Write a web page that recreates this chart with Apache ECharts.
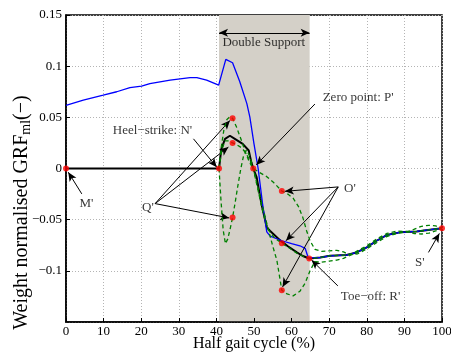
<!DOCTYPE html>
<html><head><meta charset="utf-8">
<script src="https://cdn.jsdelivr.net/npm/echarts@6/dist/echarts.min.js"></script>
<style>html,body{margin:0;padding:0;background:#fff}#c{width:451px;height:354px}</style>
</head><body><div id="c"></div>
<script>
// ---- data (x = % half gait cycle, y = weight normalised GRF_ml) ----
const blueCurve = [[0,0.0618],[4.6,0.0667],[9.9,0.0716],[13.5,0.075],[17,0.079],[20.1,0.0804],[22.3,0.083],[27.7,0.0863],[33,0.0889],[34.8,0.0889],[37.4,0.0863],[40.6,0.0814],[42.5,0.1066],[44.3,0.1033],[46.2,0.085],[48.1,0.0634],[48.9,0.0503],[50,0.024],[51.1,0],[52.3,-0.035],[53.4,-0.062],[54.3,-0.066],[57.4,-0.0706],[60,-0.0735],[62.2,-0.0755],[63.6,-0.078],[64.4,-0.087],[67.6,-0.087],[70.2,-0.0853],[74.6,-0.0846],[77.3,-0.082],[80,-0.077],[82.6,-0.0706],[85.3,-0.065],[88.8,-0.0624],[93.3,-0.0615],[96.8,-0.0598],[100,-0.0585]];
const blackCurve = [[0,0],[40.7,0],[41.3,0.019],[42.3,0.029],[43.6,0.032],[44.9,0.029],[47,0.024],[48.6,0.0176],[49.3,0.006],[49.8,0],[50.7,-0.0085],[52,-0.035],[53.4,-0.0575],[54.3,-0.061],[56.9,-0.07],[59,-0.076],[61.4,-0.082],[63,-0.0855],[64.7,-0.088],[67.6,-0.087],[70.2,-0.0853],[74.6,-0.0846],[77.3,-0.082],[80,-0.077],[82.6,-0.0706],[85.3,-0.065],[88.8,-0.0624],[93.3,-0.0615],[96.8,-0.0598],[100,-0.0585]];
const greenUpper = [[40.7,0],[41.3,0.021],[42,0.038],[42.8,0.048],[43.6,0.0505],[44.3,0.049],[45.3,0.041],[46.5,0.029],[47.7,0.016],[48.8,0.006],[49.8,0],[51.5,-0.004],[53.4,-0.008],[55.3,-0.014],[57.4,-0.022],[59,-0.025],[60.4,-0.029],[61.8,-0.037],[63,-0.048],[64,-0.061],[64.9,-0.0706],[66.2,-0.079],[68,-0.081],[70,-0.0805],[72,-0.08],[73.8,-0.0815],[75.5,-0.0845],[77.5,-0.0835],[80,-0.0785],[82.6,-0.0725],[85.3,-0.0665],[88,-0.0635],[90.7,-0.0618],[92.5,-0.0595],[94.5,-0.0565],[96.5,-0.0555],[98.3,-0.056],[100,-0.0585]];
const greenMiddle = [[40.7,0],[41.4,0.018],[42.3,0.027],[43.3,0.027],[44.3,0.025],[45.5,0.023],[46.8,0.02],[48,0.014],[49,0.007],[49.8,0],[51,-0.02],[52.5,-0.045],[53.8,-0.06],[55.5,-0.068],[57.4,-0.073],[59.5,-0.078],[61.5,-0.083],[63.2,-0.086],[64.7,-0.088],[67.6,-0.087],[70.2,-0.0853],[74.6,-0.0846],[77.3,-0.082],[80,-0.077],[82.6,-0.0706],[85.3,-0.065],[88.8,-0.0624],[93.3,-0.0615],[96.8,-0.0598],[100,-0.0585]];
const greenLower = [[40.7,0],[41.2,-0.03],[41.8,-0.06],[42.4,-0.0735],[43,-0.069],[43.6,-0.06],[44.3,-0.048],[45,-0.033],[45.7,-0.017],[46.5,0],[47.2,0.012],[48,0.018],[48.9,0.012],[49.8,0],[50.8,-0.015],[52.2,-0.036],[53.7,-0.058],[55,-0.076],[56.1,-0.09],[57.4,-0.119],[58.8,-0.1225],[60.4,-0.1245],[62.2,-0.12],[63.6,-0.112],[64.9,-0.1],[66.2,-0.091],[68,-0.0915],[70,-0.0905],[72,-0.0895],[73.8,-0.0878],[75.5,-0.085],[77.5,-0.0805],[80,-0.0755],[82.6,-0.069],[85.3,-0.0635],[88,-0.0612],[90.7,-0.0615],[92.5,-0.0635],[94.5,-0.064],[96.5,-0.0632],[98.3,-0.061],[100,-0.0585]];
const keyX = [0, 40.7, 44.3, 44.3, 44.3, 49.8, 57.4, 57.4, 57.4, 64.7, 100];
const keyY = [0, 0, 0.049, 0.025, -0.048, 0, -0.022, -0.073, -0.119, -0.088, -0.0585];
const doubleSupport = [40.7, 64.8];
const labelTexts = ["M'", "Heel\u2212strike: N'", "Zero point: P'", "Q'", "O'", "Toe\u2212off: R'", "S'", "Double Support"];
const labelX = [5.45, 23.0, 77.7, 21.8, 75.5, 81.0, 94.1, 52.6];
const labelY = [-0.0338, 0.0373, 0.0691, -0.0382, -0.0196, -0.1255, -0.0922, 0.1229];
const arrows = [ // [x tail, y tail, x head, y head]
  [4.2,-0.0248,0.6,-0.0036],
  [33.9,0.029,40.1,0.0013],
  [66.2,0.063,50.6,0.0035],
  [23.7,-0.0343,43.6,0.047],
  [23.7,-0.0343,43.2,0.0209],
  [23.7,-0.0343,43.4,-0.0483],
  [72.4,-0.018,58.2,-0.0223],
  [72.4,-0.018,58.5,-0.0706],
  [72.4,-0.018,57.6,-0.1157],
  [72.3,-0.1147,65.3,-0.0895],
  [96.4,-0.082,99.3,-0.0634]
];
const supportArrowY = 0.1326;

const FONT = 'Liberation Serif';
const chart = echarts.init(document.getElementById('c'), null, {renderer:'canvas'});
const fmtY = v => { if (Math.abs(v) < 1e-9) return '0'; return (v < 0 ? '\u2212' : '') + String(+Math.abs(v).toFixed(2)); };
const green = '#008000';
const dashed = d => ({type:'line', data:d, showSymbol:false, z:5, silent:true,
  lineStyle:{color:green, width:1.3, type:[4,3]}});

const arrowData = arrows.map(a => [{coord:[a[0],a[1]]},{coord:[a[2],a[3]]}]);
arrowData.push([{coord:[doubleSupport[0],supportArrowY], symbol:'arrow'},{coord:[doubleSupport[1],supportArrowY], symbol:'arrow'}]);

chart.setOption({
  animation:false,
  backgroundColor:'#fff',
  grid:{left:66,right:9,top:15,bottom:32,show:true,borderColor:'#000',borderWidth:1.5,containLabel:false,outerBoundsMode:'none'},
  xAxis:{type:'value',min:0,max:100,interval:10,z:1,
    axisLine:{show:true,onZero:false,lineStyle:{color:'#000',width:1.5}},
    axisTick:{show:true,inside:true,length:4,lineStyle:{color:'#000'}},
    axisLabel:{color:'#000',fontFamily:FONT,fontSize:13,margin:3},
    splitLine:{show:true,lineStyle:{color:'#b4b4b4',type:[1,2],width:1}},
    name:'Half gait cycle (%)',nameLocation:'middle',nameGap:14,nameMoveOverlap:false,
    nameTextStyle:{color:'#000',fontFamily:FONT,fontSize:16}},
  yAxis:{type:'value',min:-0.15,max:0.15,interval:0.05,z:1,
    axisLine:{show:true,onZero:false,lineStyle:{color:'#000',width:1.5}},
    axisTick:{show:true,inside:true,length:4,lineStyle:{color:'#000'}},
    axisLabel:{color:'#000',fontFamily:FONT,fontSize:13,margin:4,formatter:fmtY,showMinLabel:false},
    splitLine:{show:true,lineStyle:{color:'#b4b4b4',type:[1,2],width:1}},
    name:'{a|Weight normalised GRF}{b|ml}{a|(\u2212)}',nameLocation:'middle',nameGap:33,nameRotate:90,nameMoveOverlap:false,
    nameTextStyle:{padding:[0,88,0,0],rich:{
      a:{color:'#000',fontFamily:FONT,fontSize:20},
      b:{color:'#000',fontFamily:FONT,fontSize:14,verticalAlign:'bottom',padding:[8,0,0,0]}}}},
  series:[
    {type:'line',data:[[0,0]],showSymbol:false,z:0,silent:true,lineStyle:{width:0,opacity:0},
      markArea:{silent:true,itemStyle:{color:'#d4d0c8'},data:[[{xAxis:doubleSupport[0]},{xAxis:doubleSupport[1]}]]}},
    {type:'line',data:blackCurve,showSymbol:false,z:3,silent:true,lineStyle:{color:'#000',width:2}},
    {type:'line',data:blueCurve,showSymbol:false,z:4,silent:true,lineStyle:{color:'#0000ff',width:1.3}},
    dashed(greenUpper), dashed(greenMiddle), dashed(greenLower),
    {type:'scatter',data:keyX.map((x,i)=>[x,keyY[i]]),symbolSize:6,z:6,silent:true,itemStyle:{color:'#ff0000'}},
    {type:'scatter',z:7,silent:true,symbolSize:0,
      data:labelTexts.map((t,i)=>({value:[labelX[i],labelY[i]],name:t})),
      itemStyle:{color:'transparent'},
      label:{show:true,position:'inside',formatter:'{b}',color:'#000',fontFamily:FONT,fontSize:13},
      markLine:{silent:true,symbol:['none','arrow'],symbolSize:[6,9],emphasis:{disabled:true},
        lineStyle:{color:'#000',width:1,type:'solid'},label:{show:false},data:arrowData}}
  ]
});
</script></body></html>
